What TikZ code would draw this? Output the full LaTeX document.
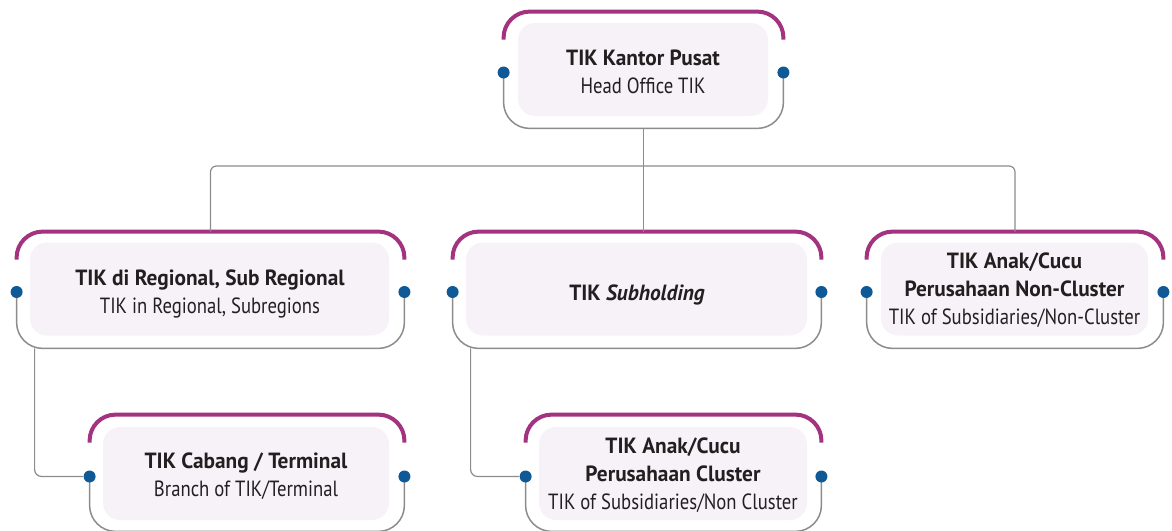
\documentclass[tikz,border=0pt]{standalone}
\usepackage{fontspec}
\setmainfont{PT Sans}[
    UprightFeatures={FakeStretch=0.85},
    BoldFeatures={FakeStretch=0.97},
    BoldItalicFeatures={FakeStretch=0.97}]
\usetikzlibrary{positioning}
\usetikzlibrary{shapes, shapes.geometric}

\definecolor{tikmagenta}{HTML}{A3337F}
\definecolor{tikblue}{HTML}{0F5A96}
\definecolor{tikgray}{HTML}{8C8C8C}
\definecolor{tikfill}{HTML}{F7F2F7}
\definecolor{tiktext}{HTML}{231F20}

\tikzset{
    inner/.style={fill=tikfill, rounded corners=8.5pt, minimum height=46.5pt, inner sep=0pt},
    boxtext/.style={text=tiktext, align=center, font=\fontsize{11}{14}\selectfont, inner sep=0pt},
    frame/.style={minimum height=58pt, inner sep=0pt},
    topline/.style={tikmagenta, line width=2pt, rounded corners=13pt},
    bottomline/.style={tikgray, line width=0.75pt, rounded corners=13pt},
    link/.style={tikgray, line width=0.6pt, rounded corners=3pt},
    dot/.style={circle, fill=tikblue, minimum size=6pt, inner sep=0pt}
}

\begin{document}
\begin{tikzpicture}[x=0.5pt, y=-0.5pt]
        \useasboundingbox (0,0) rectangle (1172,530);

        % Inner boxes
        \node[inner, minimum width=125pt] (pusat) at (643,69.5) {};
        \node[inner, minimum width=179.5pt] (regional) at (209.5,289) {};
        \node[inner, minimum width=170.5pt] (subhold) at (636.5,289) {};
        \node[inner, minimum width=133.5pt] (noncluster) at (1014.5,289) {};
        \node[inner, minimum width=143pt] (cabang) at (246,473.5) {};
        \node[inner, minimum width=134pt] (cluster) at (673,473.5) {};

        % Texts
        \node[boxtext] (pusatT) at (643,72)
            {\textbf{TIK Kantor Pusat}\\Head Office TIK};
        \node[boxtext] (regionalT) at (210,294)
            {\textbf{TIK di Regional, Sub Regional}\\TIK in Regional, Subregions};
        \node[boxtext] (subholdT) at (637,295)
            {\textbf{TIK \textit{Subholding}}};
        \node[boxtext] (nonclusterT) at (1014.5,290)
            {\textbf{TIK Anak/Cucu}\\\textbf{Perusahaan Non-Cluster}\\TIK of Subsidiaries/Non-Cluster};
        \node[boxtext] (cabangT) at (246,476)
            {\textbf{TIK Cabang / Terminal}\\Branch of TIK/Terminal};
        \node[boxtext] (clusterT) at (673,475.5)
            {\textbf{TIK Anak/Cucu}\\\textbf{Perusahaan Cluster}\\TIK of Subsidiaries/Non Cluster};

        % Outer frames
        \node[frame, minimum width=139.5pt] (pusatF) at (643.5,70) {};
        \node[frame, minimum width=193.5pt] (regionalF) at (210.5,290) {};
        \node[frame, minimum width=184pt] (subholdF) at (637,290) {};
        \node[frame, minimum width=148pt] (nonclusterF) at (1015,290) {};
        \node[frame, minimum width=157pt] (cabangF) at (247,473) {};
        \node[frame, minimum width=147.5pt] (clusterF) at (673.5,473) {};

        \foreach \n in {pusat,regional,subhold,noncluster,cabang,cluster} {
            \draw[topline] ([yshift=-14pt]\n F.north west) -- (\n F.north west)
                -- (\n F.north east) -- ([yshift=-14pt]\n F.north east);
            \draw[bottomline] (\n F.west |- \n.center) -- (\n F.south west)
                -- (\n F.south east) -- (\n F.east |- \n.center);
            \node[dot] (\n L) at ([yshift=-1.5pt]\n F.west |- \n.center) {};
            \node[dot] (\n R) at ([yshift=-1.5pt]\n F.east |- \n.center) {};
        }

        % Connectors
        \coordinate (bus) at (643,166);
        \draw[link] (pusatF.south) -- (pusatF.south |- subholdF.north);
        \draw[link] (regionalF.north) |- (bus) -| (nonclusterF.north);
        \draw[link, rounded corners=3.5pt] ([xshift=9pt]regionalF.south west) |- (cabangL);
        \draw[link, rounded corners=3.5pt] ([xshift=9pt]subholdF.south west) |- (clusterL);
    \end{tikzpicture}
\end{document}
